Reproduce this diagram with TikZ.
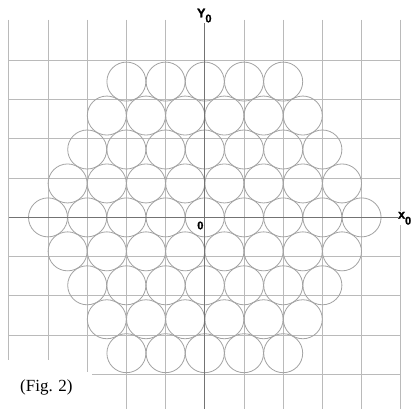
\documentclass[tikz,border=0pt]{standalone}
\usepackage{fontspec}
\setmainfont{Liberation Serif}
\newfontfamily\lsansbold[FakeBold=1.6]{Liberation Sans Bold}
\begin{document}
\begin{tikzpicture}[x=1pt,y=-1pt,
  gridline/.style={draw=black!27,line width=1pt},
  axisline/.style={draw=black!55,line width=1.2pt},
  disc/.style={draw=black!36,line width=0.8pt},
  axlabel/.style={font=\lsansbold\fontsize{12.5}{12.5}\selectfont,inner sep=0.6pt},
  figlabel/.style={font=\fontsize{17}{17}\selectfont,inner sep=0pt}]
\useasboundingbox (0,0) rectangle (415,409);
\fill[white] (0,0) rectangle (415,409);
\def\ox{204.8}\def\oy{217.4}\def\s{39.2}
% vertical grid lines
\foreach \k in {1,2,3,4,5}{
  \draw[gridline] ({\ox+\s*\k},20) -- ({\ox+\s*\k},409);
}
\draw[gridline] ({\ox-\s},20) -- ({\ox-\s},409);
\draw[gridline] ({\ox-2*\s},20) -- ({\ox-2*\s},409);
\draw[gridline] ({\ox-3*\s},20) -- ({\ox-3*\s},372);
\draw[gridline] ({\ox-4*\s},20) -- ({\ox-4*\s},360);
\draw[gridline] ({\ox-5*\s},20) -- ({\ox-5*\s},360);
% horizontal grid lines
\foreach \j in {-4,-3,-2,-1,1,2,3}{
  \draw[gridline] ({\ox-5*\s},{\oy+\s*\j}) -- ({\ox+5*\s},{\oy+\s*\j});
}
\draw[gridline] (92,{\oy+4*\s}) -- ({\ox+5*\s},{\oy+4*\s});
% circles
\foreach \j in {-4,...,4}{
  \pgfmathtruncatemacro\n{9-abs(\j)}
  \foreach \i in {1,...,\n}{
    \pgfmathsetmacro\cx{\ox+\s*(\i-(\n+1)/2)}
    \pgfmathsetmacro\cy{\oy+33.95*\j}
    \draw[disc] (\cx,\cy) circle[radius=19.5];
  }
}
% axes
\draw[axisline] ({\ox-5*\s},\oy) -- (398,\oy);
\draw[axisline] (\ox,23) -- (\ox,409);
% labels
\node[axlabel,anchor=base west] (ylab) at (196.3,17.3) {Y\raisebox{-5pt}{\fontsize{11}{11}\selectfont 0}};
\node[axlabel,anchor=base west,fill=white] (xlab) at (397.3,218.5) {x\raisebox{-6pt}{\fontsize{11}{11}\selectfont 0}};
\node[axlabel,anchor=base west,font=\lsansbold\fontsize{11}{11}\selectfont] (olab) at (196.5,229.3) {0};
\node[figlabel,anchor=base west] (fig) at (20,391) {(Fig. 2)};
\end{tikzpicture}
\end{document}
